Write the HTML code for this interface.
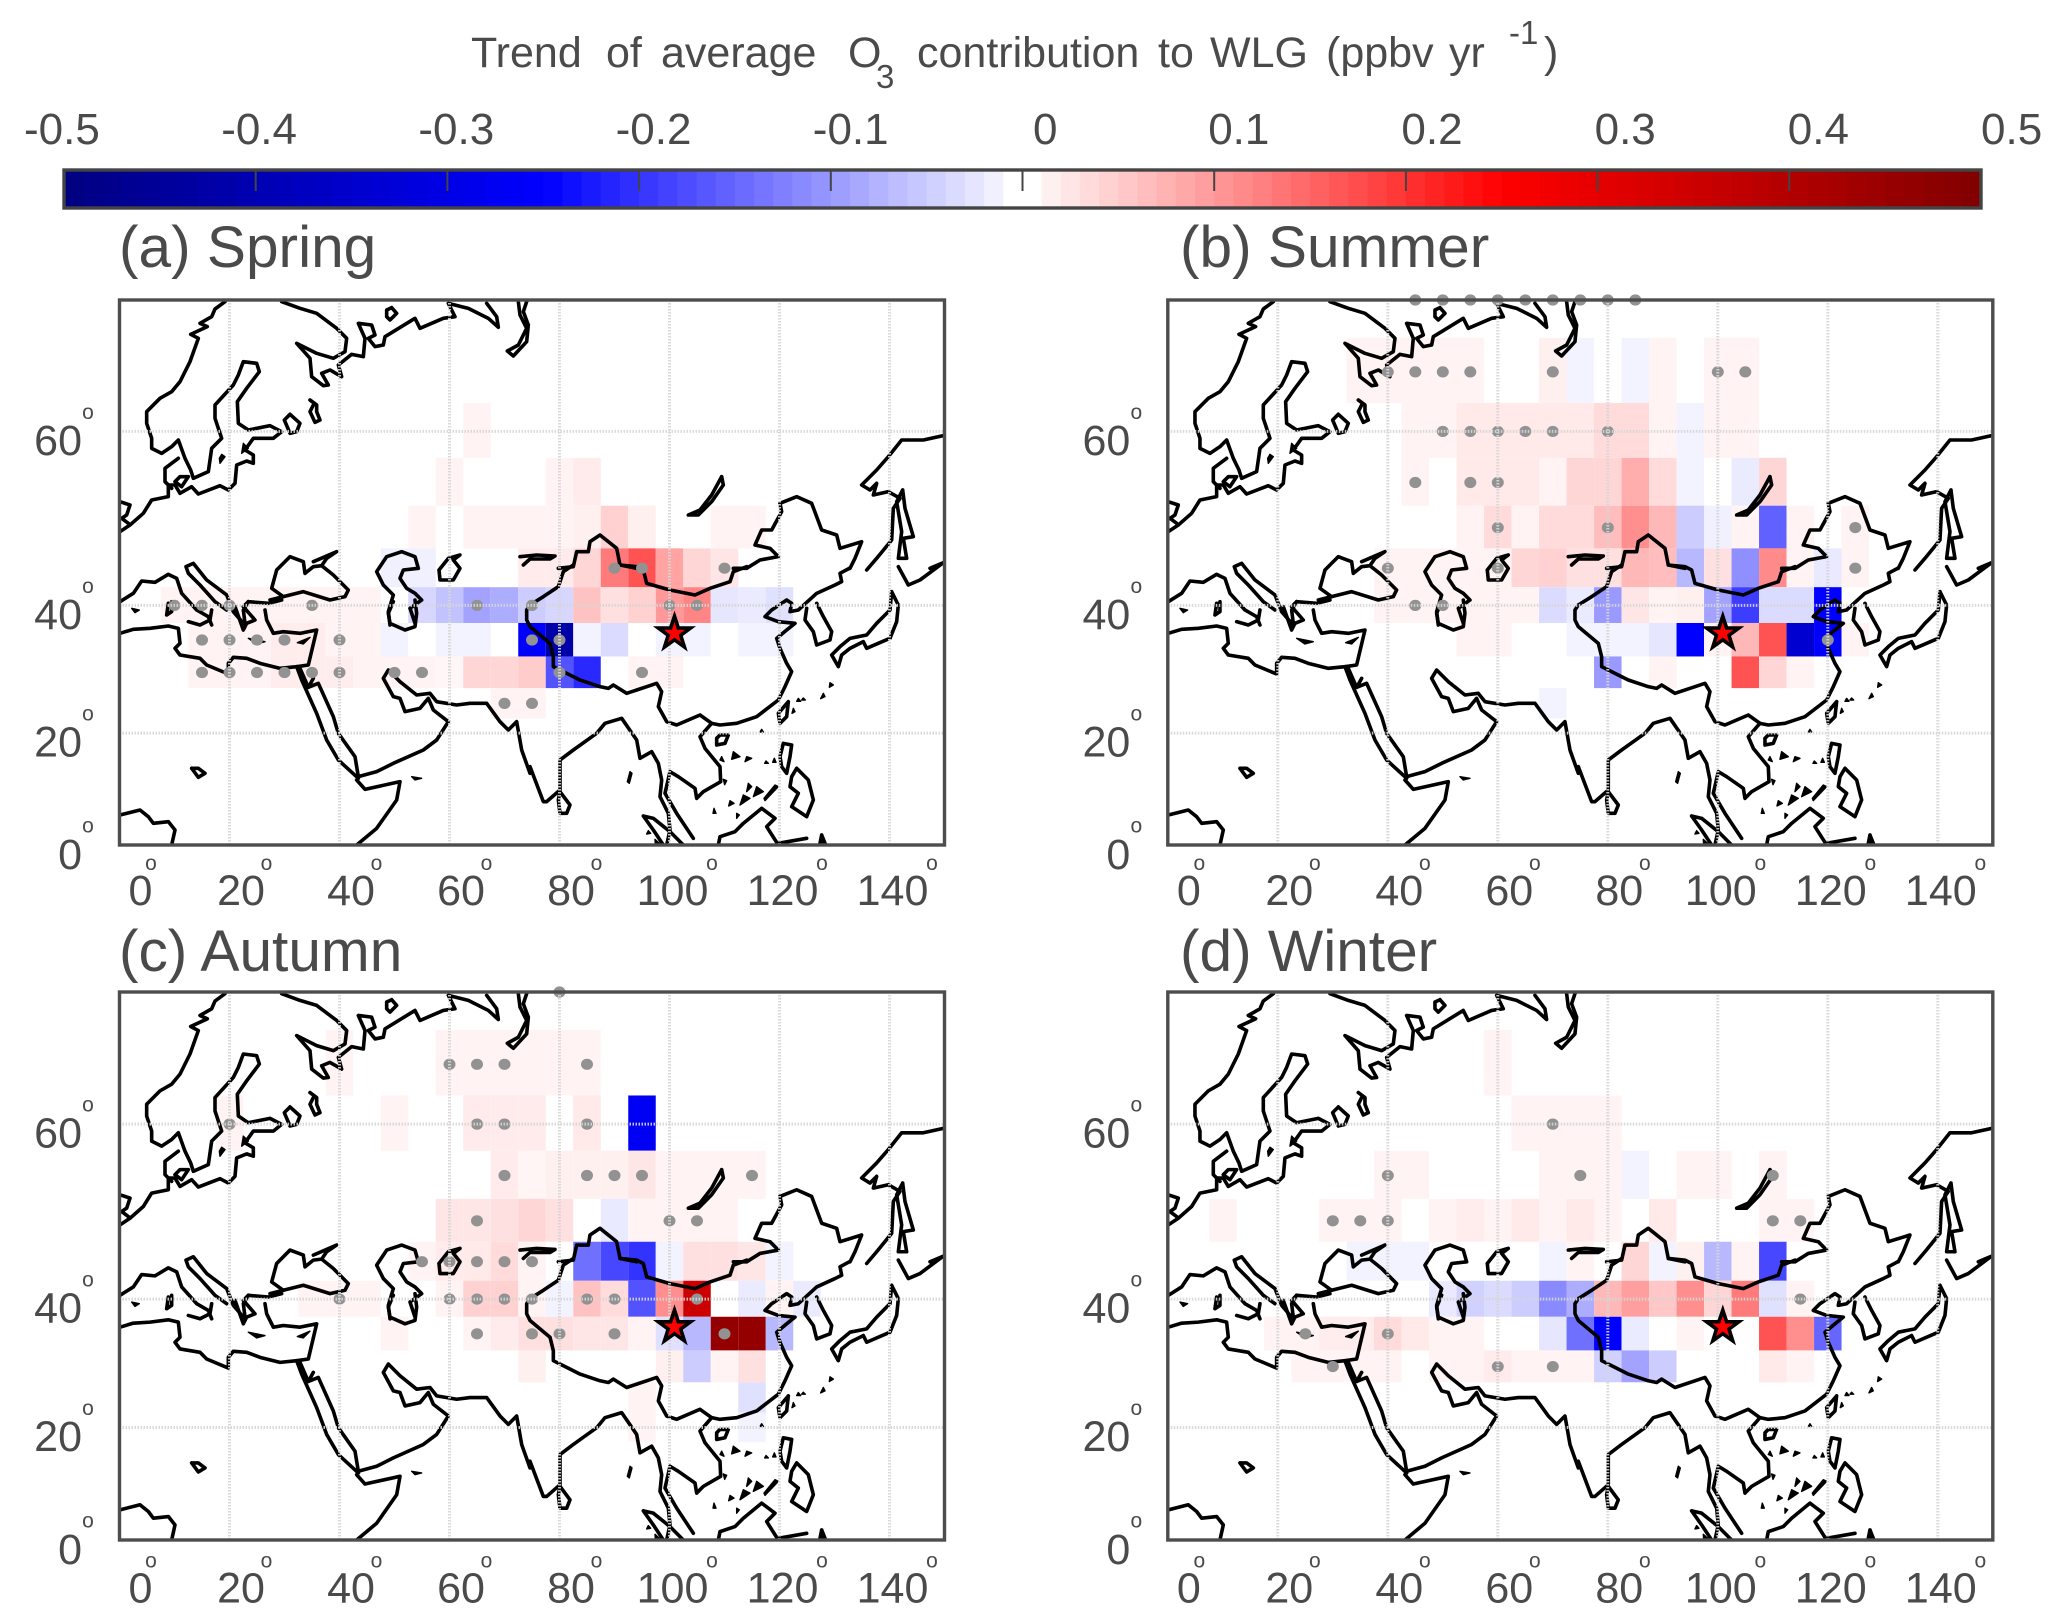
<!DOCTYPE html>
<html lang="en">
<head>
<meta charset="utf-8">
<title>Trend of average O3 contribution to WLG</title>
<style>
html,body{margin:0;padding:0;background:#fff;}
svg{display:block;font-family:"Liberation Sans",sans-serif;}
text{fill:#4a4a4a;}
.coast{fill:none;stroke:#000;stroke-width:3.6;stroke-linejoin:round;stroke-linecap:round;vector-effect:non-scaling-stroke;}
.blob{fill:#000;stroke:#000;stroke-width:1.4;stroke-linejoin:round;vector-effect:non-scaling-stroke;}
</style>
</head>
<body>
<svg id="figure" width="2067" height="1618" viewBox="0 0 2067 1618" xmlns="http://www.w3.org/2000/svg">
<defs>
<clipPath id="coast-clip"><rect x="119.5" y="300" width="825" height="545"/></clipPath>
<g id="coastlines" clip-path="url(#coast-clip)">
  <!-- north-west quadrant -->
  <g transform="translate(100,295) scale(0.33333)">
    <path class="coast" d="M375,20 345,42 335,65 300,85 322,95 272,118 295,130 270,200 240,260 215,290 180,310 140,350 140,385 155,430 155,460 185,475 215,455 235,435 255,490 272,525 280,550 325,530 335,460 365,430 345,370 345,330 400,270 415,240 430,200 470,205 478,230 440,280 412,320 415,385 445,405 510,392 545,410 520,430 460,430 435,465 460,480 460,505 440,498 410,510 405,565 385,585 360,572 295,597 275,575 240,595 225,570 205,570 205,605 155,615 130,655 90,690 60,710"/>
    <path class="coast" d="M235,490 195,520 195,560 215,580 M225,560 245,575 265,545 240,545 225,560"/>
    <path class="coast" d="M60,620 90,630 80,660 65,670 85,685"/>
    <path class="coast" d="M545,20 600,40 650,55 710,100 740,130 735,170 700,190 650,175 590,145 630,190 635,245 670,272 685,270 665,235 690,225 725,245 715,210 755,178 790,185 795,130 775,85 815,90 825,120 805,130 825,155 850,150 855,125 945,70 960,100 1030,70 1065,65 1045,25 1105,40 1165,70 1195,97 1190,65 1160,25"/>
    <path class="coast" d="M875,38 890,55 870,75 860,65 860,45 875,38"/>
    <path class="coast" d="M1255,20 1260,60 1280,100 1255,150 1222,168 1240,183 1280,140 1285,90 1270,50 1280,20"/>
    <path class="coast" d="M570,358 600,385 590,410 570,415 553,375 570,358"/>
    <path class="coast" d="M630,315 650,330 650,350 660,375 645,382 630,350 640,330"/>
    <path class="blob" d="M365,478 375,485 360,505 358,490Z M430,445 445,460 425,475Z"/>
    <path class="coast" d="M60,920 100,895 125,858 165,862 205,838 230,850 245,895 290,945 325,965 335,990"/>
    <path class="coast" d="M258,815 280,805 320,855 380,900 400,950 430,985 M258,815 265,835 300,870 345,920 380,945"/>
    <path class="coast" d="M510,915 550,905 610,890 690,915 735,905 745,885 700,840 665,812 640,815 615,835 610,800 570,785 530,825 515,880 550,905 M640,800 710,770 680,790 665,812"/>
    <path class="coast" d="M505,925 545,915 M445,920 430,945 435,985 M505,925 445,920"/>
    <path class="coast" d="M945,985 930,940 965,915 945,895 920,880 900,850 910,825 955,820 945,785 905,770 860,785 830,830 850,870 880,900 865,950 870,990"/>
    <path class="coast" d="M1017,825 1045,790 1080,780 1060,795 1080,820 1060,855 1020,855 1017,825"/>
  </g>
  <!-- south-west quadrant -->
  <g transform="translate(100,600) scale(0.33333)">
    <path class="coast" d="M60,100 100,88 150,85 205,78 235,85 240,130 225,145 240,165 300,175 320,195 385,222 385,190 400,172 440,175 480,190 540,205 590,200 625,195 650,90 600,100 550,95 520,100 500,60 495,30"/>
    <path class="coast" d="M265,65 300,75 330,60 335,30 M405,20 430,90 440,70 465,60 430,20 445,5 M205,10 200,45 215,35 215,5"/>
    <path class="blob" d="M445,115 495,125 470,132Z M592,128 630,112 610,132Z M95,25 118,30 105,38Z M935,530 965,535 945,540Z"/>
    <path class="coast" d="M590,200 605,240 650,340 680,420 715,480 775,535 770,540 795,568 900,545 890,600 830,685 770,735"/>
    <path class="coast" d="M625,262 640,235 M625,262 600,205 M625,262 655,250 700,350 715,400 765,470 775,530 830,515 880,490 970,450 1010,420 1045,365 1000,330 985,295 960,325 915,335 900,295 880,290 850,235 865,210 900,245 950,285 990,280 1010,305 1070,315 1110,310 1160,310 1200,365 1225,390 1250,365 1265,450 1290,520"/>
    <path class="coast" d="M275,505 295,505 315,520 295,532 275,505"/>
    <path class="coast" d="M60,645 120,630 145,650 160,670 205,665 225,690 215,735"/>
    <path class="coast" d="M880,5 865,40 870,70 915,90 945,80 950,40 945,0"/>
  </g>
  <!-- north-east quadrant -->
  <g transform="translate(530,295) scale(0.33333)">
    <path class="coast" d="M575,545 580,570 545,620 505,660 475,660 510,645 545,600 575,545"/>
    <path class="coast" d="M1240,422 1180,435 1115,435 1075,485 1040,525 995,570 1020,585 1040,565 1030,600 1075,590 1110,610 1090,640 1085,735 1040,790 1010,825"/>
    <path class="coast" d="M1118,585 1125,640 1150,725 1120,730 1130,790 1105,790 1115,710 1100,620 1118,585"/>
    <path class="coast" d="M750,625 800,605 845,625 875,705 920,720 930,760 995,740 975,790 960,820"/>
    <path class="coast" d="M750,625 755,650 725,705 695,705 675,750 720,760 745,785 690,795 650,820 610,820"/>
    <path class="coast" d="M85,820 130,815 140,770 175,770 180,740 210,720 260,760 270,810 320,820"/>
    <path class="coast" d="M-30,785 20,780 75,783 60,792 0,792 -20,810"/>
  </g>
  <!-- south-east quadrant -->
  <g transform="translate(530,560) scale(0.33333)">
    <path class="coast" d="M0,135 40,110 85,80 100,35 130,15 M270,15 320,20 340,30 350,70 420,90 495,105 540,85 600,65 610,35 650,20"/>
    <path class="coast" d="M0,135 -10,150 -10,180 0,200 30,225 60,250 70,290 70,320 110,340 150,360 210,380 235,385 250,375 290,400 350,380 380,370 395,395 385,440 410,485 440,495 510,465 545,490 570,495 620,490 680,470 745,420 765,380 785,335 770,310 750,265 740,235 770,210 795,190 745,185 705,170 725,150 770,120 785,130 780,155 805,150 860,100 915,75 935,65 930,40 960,24"/>
    <path class="coast" d="M860,130 880,170 905,215 900,240 860,255 850,215 825,180 830,145"/>
    <path class="coast" d="M1240,8 1170,60 1135,75 1105,20 M1085,95 1105,135 1100,185 1080,235 1010,265 1000,245 960,265 935,285 925,320 905,285 930,260 960,235 1010,225 1040,190 1080,150 1085,95 M1240,8 1200,25"/>
    <path class="coast" d="M545,490 510,530 525,565 570,620 572,665 520,695 500,715 495,685 445,650 420,635 405,700 440,760 480,820 490,835"/>
    <path class="coast" d="M0,620 40,725 50,725 90,690 90,600 130,570 200,520 225,490 275,475 320,540 330,595 365,575 385,610 395,660 390,710 415,760 420,810 410,855"/>
    <path class="coast" d="M340,768 370,775 420,815 460,855 M340,768 370,810 400,855"/>
    <path class="coast" d="M90,695 120,735 110,760 90,760 85,720 90,695"/>
    <path class="coast" d="M570,525 595,525 585,550 560,555 560,535 570,525"/>
    <path class="coast" d="M775,425 770,470 750,490 745,460 775,425"/>
    <path class="coast" d="M760,550 785,555 780,590 770,640 755,620 750,590 760,550"/>
    <path class="coast" d="M800,625 835,660 850,720 830,770 785,740 805,700 780,680 785,650 800,625"/>
    <path class="coast" d="M565,855 570,830 615,815 640,790 695,745 735,775 710,800 745,855"/>
    <path class="coast" d="M745,850 830,835 M875,825 885,850 870,850 875,825"/>
    <path class="blob" d="M900,368 910,375 898,382Z M880,400 885,410 872,416Z M805,415 812,424 800,424Z M820,414 826,420 815,420Z M695,508 700,516 690,516Z M790,445 795,455 786,460Z M610,575 630,590 605,598Z M650,590 665,595 645,605Z M575,590 582,605 570,600Z M708,603 715,610 704,610Z M733,595 738,607 728,607Z M580,658 590,662 584,674Z M735,675 745,680 705,722 702,715Z M655,670 665,680 650,695Z M680,680 700,695 670,710Z M640,705 660,715 630,735Z M600,722 612,730 596,738Z M620,760 628,765 620,775Z M552,745 558,760 549,760Z M300,635 306,640 298,670 292,665Z M355,812 362,820 350,822Z M375,838 388,850 376,852Z"/>
  </g>
</g>
</defs>

<text y="67" font-size="43"><tspan x="471">Trend</tspan><tspan x="606">of</tspan><tspan x="661">average</tspan><tspan x="848">O</tspan><tspan x="876" y="88" font-size="33">3</tspan><tspan x="917" y="67">contribution</tspan><tspan x="1158">to</tspan><tspan x="1210">WLG</tspan><tspan x="1326">(ppbv</tspan><tspan x="1449">yr</tspan><tspan x="1509" y="44" font-size="33">-1</tspan><tspan x="1544" y="67">)</tspan></text>

<g id="colorbar"></g>
<g id="panels"></g>
</svg>

<script>
// ---- axes / categories ----
const gridLons = [5,10,15,20,25,30,35,40,45,50,55,60,65,70,75,80,85,90,95,100,105,110,115,120,125];
const gridLats = [65,60,55,50,45,40,35,30,25,20];
const lonTicks = [0,20,40,60,80,100,120,140];
const latTicks = [0,20,40,60];
const barTicks = [-0.5,-0.4,-0.3,-0.2,-0.1,0,0.1,0.2,0.3,0.4,0.5];
const barTickLabels = ['-0.5','-0.4','-0.3','-0.2','-0.1','0','0.1','0.2','0.3','0.4','0.5'];
const siteLocation = [100.9,36.0];

// ---- trend values (ppbv/yr); rows follow gridLats, columns follow gridLons ----
const springTrend = [
[0,0,0,0,0,0,0,0,0,0,0,0,0,0,0,0,0,0,0,0,0,0,0,0,0],
[0,0,0,0,0,0,0,0,0,0,0,0,.012,0,0,0,0,0,0,0,0,0,0,0,0],
[0,0,0,0,0,0,0,0,0,0,0,.012,0,0,0,.012,.02,0,0,0,0,0,0,0,0],
[0,0,0,0,0,0,0,0,0,0,.012,0,.012,.012,.012,.012,.015,.045,.015,0,0,.012,.012,0,0],
[0,0,0,0,0,0,0,0,0,-.015,-.015,0,0,0,.02,.02,.04,.13,.17,.09,.04,.025,0,0,0],
[0,.012,.012,.012,.012,.012,.012,.012,.012,0,-.04,-.06,-.09,-.08,-.05,-.04,.06,.03,.045,.1,.12,-.025,-.02,-.03,0],
[0,0,.012,.012,.012,.018,.018,.012,.012,-.012,0,-.012,-.012,0,-.25,-.42,-.012,-.035,0,-.012,-.012,0,-.012,-.012,0],
[0,0,.012,.012,.012,.018,.018,.018,.012,.012,.012,.008,.04,.04,.05,-.17,-.21,0,.012,.012,0,0,0,0,0],
[0,0,0,0,0,0,0,0,0,0,0,0,0,.012,.012,0,0,0,0,0,0,0,0,0,0],
[0,0,0,0,0,0,0,0,0,0,0,0,0,0,0,0,0,0,0,0,0,0,0,0,0]
];
const summerTrend = [
[0,0,0,0,0,0,.012,.012,.012,.012,.012,0,0,.015,-.012,0,-.012,.012,0,.012,.012,0,0,0,0],
[0,0,0,0,0,0,0,0,.012,.012,.022,.022,.022,.022,.022,.035,.035,.012,-.012,.012,.012,0,0,0,0],
[0,0,0,0,0,0,0,0,.012,0,.022,.022,.022,.012,.04,.04,.08,.035,-.012,0,-.02,.04,0,0,0],
[0,0,0,0,0,0,0,0,0,0,.012,.035,.012,.035,.035,.065,.11,.07,-.05,-.015,.012,-.155,.012,0,.012],
[0,0,0,0,0,0,0,.012,.012,.012,.012,.012,.04,.045,.03,.03,.07,.065,-.07,.03,-.11,.115,.012,-.022,.012],
[0,0,0,0,0,0,0,.012,.012,.012,.012,.012,.012,-.035,-.02,-.1,.025,.012,.015,-.09,-.19,-.035,-.035,-.25,0],
[0,0,0,0,0,0,0,0,0,0,.012,.012,0,0,-.012,-.012,-.012,-.025,-.25,.012,.07,.17,-.34,-.25,.012],
[0,0,0,0,0,0,0,0,0,0,0,0,0,0,0,-.1,0,.012,0,0,.17,.04,.012,0,0],
[0,0,0,0,0,0,0,0,0,0,0,0,0,-.012,0,0,0,0,0,0,0,0,0,0,0],
[0,0,0,0,0,0,0,0,0,0,0,0,0,0,0,0,0,0,0,0,0,0,0,0,0]
];
const autumnTrend = [
[0,0,0,0,0,0,0,.012,0,0,0,.012,.012,.012,.012,.012,.012,0,0,0,0,0,0,0,0],
[0,0,0,.012,0,0,0,0,0,.012,0,0,.02,.02,.02,0,.022,0,-.27,0,0,0,0,0,0],
[0,0,0,0,0,0,0,0,0,0,0,0,0,.02,.01,.015,.015,.015,.025,.012,.012,.012,.012,0,0],
[0,0,0,0,0,0,0,0,0,0,0,.025,.025,.03,.04,.03,0,-.022,.012,.012,.012,.012,0,0,0],
[0,0,0,0,0,0,0,0,0,0,.012,.02,.022,.035,.012,0,-.14,-.18,-.2,-.012,.03,.03,.025,-.012,0],
[0,0,0,0,0,0,.012,.012,.012,0,0,.012,.045,.045,.012,-.012,.06,.035,-.17,.11,.35,0,-.02,.012,-.02],
[0,0,0,0,0,0,0,0,0,.012,0,0,.012,.02,.03,.03,.025,.025,.012,-.03,-.07,.46,.46,-.07,0],
[0,0,0,0,0,0,0,0,0,0,0,0,0,0,.015,0,0,0,0,.015,-.05,.012,.03,0,0],
[0,0,0,0,0,0,0,0,0,0,0,0,0,0,0,0,0,0,.012,0,0,0,-.03,0,0],
[0,0,0,0,0,0,0,0,0,0,0,0,0,0,0,0,0,0,.012,0,0,0,-.012,0,0]
];
const winterTrend = [
[0,0,0,0,0,0,0,0,0,0,0,.012,0,0,0,0,0,0,0,0,0,0,0,0,0],
[0,0,0,0,0,0,0,0,0,0,0,0,.012,.012,.012,.012,0,0,0,0,0,0,0,0,0],
[0,0,0,0,0,0,0,.012,.012,0,0,0,0,.012,.012,.012,-.012,0,.012,.012,0,.012,0,0,0],
[0,.012,0,0,0,.012,.012,.012,0,.012,.018,.012,.022,.012,.022,.012,0,.022,0,0,0,.012,.012,0,0],
[0,0,0,0,0,0,-.012,-.012,-.012,0,0,0,0,-.012,.012,0,.04,-.012,.015,-.07,.012,-.18,0,0,0],
[0,0,0,0,0,0,0,0,0,-.022,-.045,-.035,-.05,-.115,-.08,.07,.095,.055,.11,.04,.13,-.03,.012,0,0],
[0,0,0,.012,.012,.018,.018,.035,.022,.012,.012,0,0,-.025,-.14,-.25,-.02,0,.012,0,0,.17,.11,-.15,0],
[0,0,0,0,.012,.012,.012,.012,0,.012,.012,.02,.012,.012,.012,-.045,-.09,-.05,0,0,0,.022,.012,0,0],
[0,0,0,0,0,0,0,0,0,0,0,0,0,0,0,0,0,0,0,0,0,0,0,0,0],
[0,0,0,0,0,0,0,0,0,0,0,0,0,0,0,0,0,0,0,0,0,0,0,0,0]
];

// ---- significant grid cells as [lon, lat] ----
const springSignificant = [[10,40],[15,40],[20,40],[35,40],[65,40],[75,40],[100,40],[105,40],[15,35],[20,35],[25,35],[30,35],[40,35],[75,35],[80,35],[15,30],[20,30],[25,30],[30,30],[35,30],[40,30],[50,30],[55,30],[80,30],[95,30],[70,25],[75,25],[90,45],[95,45],[110,45]];
const summerSignificant = [[45,70],[50,70],[55,70],[60,70],[65,70],[70,70],[75,70],[80,70],[85,70],[40,65],[45,65],[50,65],[55,65],[70,65],[100,65],[105,65],[50,60],[55,60],[60,60],[65,60],[70,60],[80,60],[45,55],[55,55],[60,55],[60,50],[80,50],[125,50],[40,45],[60,45],[125,45],[45,40],[50,40],[120,35]];
const autumnSignificant = [[80,70],[60,65],[65,65],[70,65],[85,65],[20,60],[65,60],[70,60],[85,60],[70,55],[85,55],[90,55],[95,55],[115,55],[65,50],[100,50],[105,50],[55,45],[60,45],[65,45],[70,45],[75,45],[40,40],[60,40],[65,40],[70,40],[75,40],[85,40],[90,40],[105,40],[65,35],[75,35],[80,35],[90,35],[110,35]];
const winterSignificant = [[70,60],[40,55],[75,55],[110,55],[30,50],[35,50],[40,50],[110,50],[115,50],[115,40],[25,35],[40,35],[30,30],[60,30],[70,30]];

// ---- panel setup ----
const panelTitles = ['(a) Spring','(b) Summer','(c) Autumn','(d) Winter'];
const panelKeys = ['spring','summer','autumn','winter'];
const panelValues = [springTrend,summerTrend,autumnTrend,winterTrend];
const panelDots = [springSignificant,summerSignificant,autumnSignificant,winterSignificant];

const NS = 'http://www.w3.org/2000/svg';
const FRAME_W = 825, LON_MAX = 150, LAT_TOP = 70;
const panelLeft = [119.5,1167.8,119.5,1167.8];
const panelTop = [300,300,992,992];
const panelHeight = [545,545,548,548];
const panelTitleX = [119,1180,119,1180];
const panelTitleY = [267,267,971,971];
const panelLabelDrop = [60,60,62.5,62.5];

function merc(lat){ return Math.log(Math.tan(Math.PI/4 + lat*Math.PI/360)); }
function mix(a,b,t){ return Math.round(a+(b-a)*t); }
function rgb(r,g,b){ return 'rgb('+r+','+g+','+b+')'; }
function trendColor(v){
  const c = Math.max(-0.5,Math.min(0.5,v));
  const m = Math.abs(c);
  if(m <= 0.25){
    const t = m/0.25;
    const k = mix(255,0,t);
    return c >= 0 ? rgb(255,k,k) : rgb(k,k,255);
  }
  const t = (m-0.25)/0.25;
  return c >= 0 ? rgb(mix(255,128,t),0,0) : rgb(0,0,mix(255,128,t));
}
function svgEl(tag,attrs,parent){
  const el = document.createElementNS(NS,tag);
  for(const k in attrs){ el.setAttribute(k,attrs[k]); }
  parent.appendChild(el);
  return el;
}
function barLabelX(v){
  if(v < 0) return 24 + (v+0.5)*1972;
  if(v > 0) return 1015 + v*1932;
  return 1033;
}
function lonLabelOffset(t){
  if(t === 0) return 21;
  return t >= 100 ? 3 : 11.5;
}
function lonDegreeOffset(t){
  if(t === 0) return 31.5;
  return t >= 100 ? 42.5 : 37;
}

// ---- colour bar ----
(function(){
  const g = document.getElementById('colorbar');
  const x0 = 64, x1 = 1981, y0 = 170, y1 = 208;
  const sx = v => x0 + (v+0.5)*(x1-x0);
  for(let i=0;i<100;i++){
    const v = -0.5 + (i+0.5)/100;
    const r = svgEl('rect',{x:sx(-0.5+i/100),y:y0,width:(x1-x0)/100+0.6,height:y1-y0,fill:trendColor(Math.abs(v)<0.011?0:v)},g);
    
    
  }
  const frame = svgEl('rect',{x:x0,y:y0,width:x1-x0,height:y1-y0,fill:'none',stroke:'#444',"stroke-width":3.4},g);
  
  
  barTicks.forEach((t,i)=>{
    if(i>0 && i<barTicks.length-1){
      const tk = svgEl('line',{x1:sx(t),x2:sx(t),y1:y0,y2:191,stroke:'#444',"stroke-width":2},g);
      
      
    }
    const lab = svgEl('text',{x:barLabelX(t),y:144,"font-size":44},g);
    lab.textContent = barTickLabels[i];
    
    
  });
})();

// ---- map panels ----
panelKeys.forEach((key,p)=>{
  const L = panelLeft[p], T = panelTop[p], H = panelHeight[p], B = T+H;
  const k = H/merc(LAT_TOP);
  const xOf = lon => L + lon*FRAME_W/LON_MAX;
  const yOf = lat => B - k*merc(lat);
  const root = document.getElementById('panels');

  const g = svgEl('g',{},root);
  
  

  const title = svgEl('text',{x:panelTitleX[p],y:panelTitleY[p],"font-size":58.6},g);
  title.textContent = panelTitles[p];
  
  

  // heat-map cells
  panelValues[p].forEach((row,r)=>{
    row.forEach((val,c)=>{
      if(!val) return;
      const lat = gridLats[r], lon = gridLons[c];
      const cell = svgEl('rect',{x:xOf(lon-2.5),y:yOf(lat+2.5),width:xOf(lon+2.5)-xOf(lon-2.5),height:yOf(lat-2.5)-yOf(lat+2.5),fill:trendColor(val)},g);
      
      
    });
  });

  // coastlines
  const sy = H/545;
  const coast = svgEl('use',{href:'#coastlines',transform:'translate('+L+','+T+') scale(1,'+sy+') translate(-119.5,-300)'},g);
  
  

  // dots
  panelDots[p].forEach(d=>{
    const dot = svgEl('ellipse',{cx:xOf(d[0]),cy:yOf(d[1]),rx:6,ry:5.6,fill:'#929292'},g);
    
    
  });

  // grid
  lonTicks.forEach(t=>{
    if(t===0) return;
    const gl = svgEl('line',{x1:xOf(t),x2:xOf(t),y1:T,y2:B,stroke:'#d6d6d6',"stroke-width":3,"stroke-dasharray":"1.5 1.5",opacity:0.9},g);
    
    
  });
  latTicks.forEach(t=>{
    if(t===0) return;
    const gl = svgEl('line',{x1:L,x2:L+FRAME_W,y1:yOf(t),y2:yOf(t),stroke:'#d6d6d6',"stroke-width":3,"stroke-dasharray":"1.5 1.5",opacity:0.9},g);
    
    
  });

  // frame
  const fr = svgEl('rect',{x:L,y:T,width:FRAME_W,height:H,fill:'none',stroke:'#4d4d4d',"stroke-width":3.4},g);
  
  

  // site star
  const cx = xOf(siteLocation[0]), cy = yOf(siteLocation[1]);
  let pts = '';
  for(let i=0;i<10;i++){
    const r = i%2 ? 6.6 : 17;
    const a = -Math.PI/2 + i*Math.PI/5;
    pts += (cx+r*Math.cos(a)).toFixed(1)+','+(cy+r*Math.sin(a)).toFixed(1)+' ';
  }
  const star = svgEl('polygon',{points:pts,fill:'#f00',stroke:'#000',"stroke-width":3.6,"stroke-miterlimit":10},g);
  
  

  // longitude tick labels
  lonTicks.forEach(t=>{
    const lab = svgEl('text',{x:xOf(t)+lonLabelOffset(t),y:B+panelLabelDrop[p],"font-size":43,"text-anchor":"middle"},g);
    lab.textContent = String(t);
    
    
    const deg = svgEl('text',{x:xOf(t)+lonDegreeOffset(t),y:B+panelLabelDrop[p]-35,"font-size":21,"text-anchor":"middle"},g);
    deg.textContent = 'o';
    
    
  });
  // latitude tick labels
  latTicks.forEach(t=>{
    const yy = yOf(t);
    const lab = svgEl('text',{x:L-37.5,y:yy+(t===0?24:23.5),"font-size":43,"text-anchor":"end"},g);
    lab.textContent = String(t);
    
    
    const deg = svgEl('text',{x:L-31.5,y:yy-12.5,"font-size":21,"text-anchor":"middle"},g);
    deg.textContent = 'o';
    
    
  });
});
</script>
</body>
</html>
